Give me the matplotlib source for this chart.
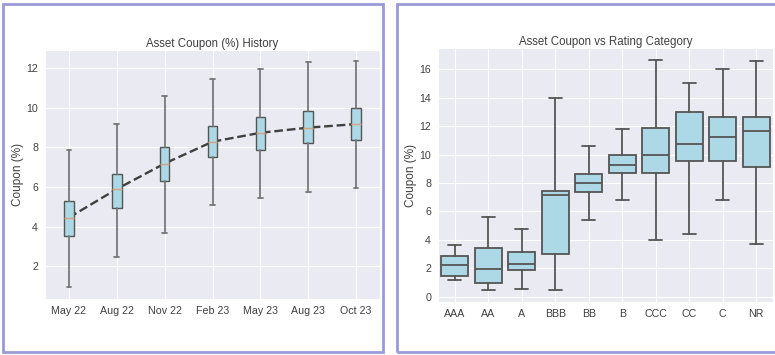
import matplotlib
matplotlib.use("Agg")
import matplotlib.pyplot as plt
import seaborn as sns
from matplotlib.patches import Rectangle

# ---------------- data ----------------
dates = ["May 22", "Aug 22", "Nov 22", "Feb 23", "May 23", "Aug 23", "Oct 23"]
hist_low = [0.94, 2.48, 3.70, 5.10, 5.47, 5.77, 5.93]
hist_q1 = [3.54, 4.96, 6.30, 7.51, 7.89, 8.23, 8.36]
hist_med = [4.46, 5.90, 7.19, 8.29, 8.74, 9.00, 9.18]
hist_q3 = [5.28, 6.64, 8.03, 9.07, 9.52, 9.82, 9.97]
hist_high = [7.89, 9.20, 10.62, 11.48, 11.95, 12.30, 12.37]

ratings = ["AAA", "AA", "A", "BBB", "BB", "B", "CCC", "CC", "C", "NR"]
rat_low = [1.17, 0.45, 0.52, 0.45, 5.40, 6.80, 4.01, 4.39, 6.80, 3.71]
rat_q1 = [1.43, 0.99, 1.88, 3.00, 7.35, 8.70, 8.70, 9.53, 9.53, 9.10]
rat_med = [2.23, 1.93, 2.28, 7.18, 7.98, 9.29, 9.97, 10.73, 11.26, 11.66]
rat_q3 = [2.89, 3.41, 3.17, 7.44, 8.63, 9.95, 11.89, 13.02, 12.67, 12.67]
rat_high = [3.64, 5.63, 4.74, 13.96, 10.63, 11.80, 16.66, 15.02, 16.00, 16.59]

# ---------------- style ----------------
sns.set_style("darkgrid")
plt.rcParams['font.family'] = ['Liberation Sans', 'DejaVu Sans']
plt.rcParams['text.color'] = '.25'
plt.rcParams['axes.labelcolor'] = '.25'
plt.rcParams['xtick.color'] = '.25'
plt.rcParams['ytick.color'] = '.25'

W, H = 775, 355
fig = plt.figure(figsize=(W / 100, H / 100), dpi=100)
fig.patch.set_facecolor("white")

def px_rect(x0, y0, x1, y1):
    return [x0 / W, 1 - y1 / H, (x1 - x0) / W, (y1 - y0) / H]

border = "#9a9ad8"
for (x0, y0, x1, y1) in [(3, 4, 383, 352), (397, 4, 777, 352)]:
    fig.patches.append(Rectangle((x0 / W, 1 - y1 / H), (x1 - x0) / W, (y1 - y0) / H,
                                 transform=fig.transFigure, fill=False,
                                 edgecolor=border, linewidth=2, zorder=0))

ax1 = fig.add_axes(px_rect(45, 50, 380, 299))
ax2 = fig.add_axes(px_rect(438, 48, 773, 302))

def stats(labels, low, q1, med, q3, high):
    return [dict(label=l, whislo=a, q1=b, med=c, q3=d, whishi=e, fliers=[])
            for l, a, b, c, d, e in zip(labels, low, q1, med, q3, high)]

# ---------------- left chart ----------------
pos1 = list(range(len(dates)))
ax1.plot(pos1, hist_med, linestyle="--", color="#404040", linewidth=1.7, zorder=1)
ax1.bxp(stats(dates, hist_low, hist_q1, hist_med, hist_q3, hist_high),
        positions=pos1, widths=0.2, patch_artist=True,
        boxprops=dict(facecolor="#add8e6", edgecolor="#555555", linewidth=1.0),
        whiskerprops=dict(color="#777777", linewidth=1.3),
        capprops=dict(color="#777777", linewidth=1.3),
        medianprops=dict(color="#d9a47a", linewidth=1.0),
        zorder=2)
ax1.set_xlim(-0.5, 6.5)
ax1.set_ylim(0.35, 12.92)
ax1.set_yticks([2, 4, 6, 8, 10, 12])
ax1.set_title("Asset Coupon (%) History", fontsize=8.3, pad=2.5)
ax1.set_ylabel("Coupon (%)", fontsize=8.5, labelpad=2)
ax1.tick_params(axis="both", labelsize=7.7, length=0, pad=5)

# ---------------- right chart ----------------
pos2 = list(range(len(ratings)))
ax2.bxp(stats(ratings, rat_low, rat_q1, rat_med, rat_q3, rat_high),
        positions=pos2, widths=0.8, patch_artist=True,
        boxprops=dict(facecolor="#add8e6", edgecolor="#555555", linewidth=1.3),
        whiskerprops=dict(color="#555555", linewidth=1.3),
        capprops=dict(color="#555555", linewidth=1.3),
        medianprops=dict(color="#555555", linewidth=1.3),
        zorder=2)
ax2.set_xlim(-0.5, 9.5)
ax2.set_ylim(-0.37, 17.5)
ax2.set_yticks([0, 2, 4, 6, 8, 10, 12, 14, 16])
ax2.set_title("Asset Coupon vs Rating Category", fontsize=8.3, pad=2.5)
ax2.set_ylabel("Coupon (%)", fontsize=8.5, labelpad=2)
ax2.tick_params(axis="both", labelsize=7.7, length=0, pad=5)

fig.savefig("out.png", dpi=100)
